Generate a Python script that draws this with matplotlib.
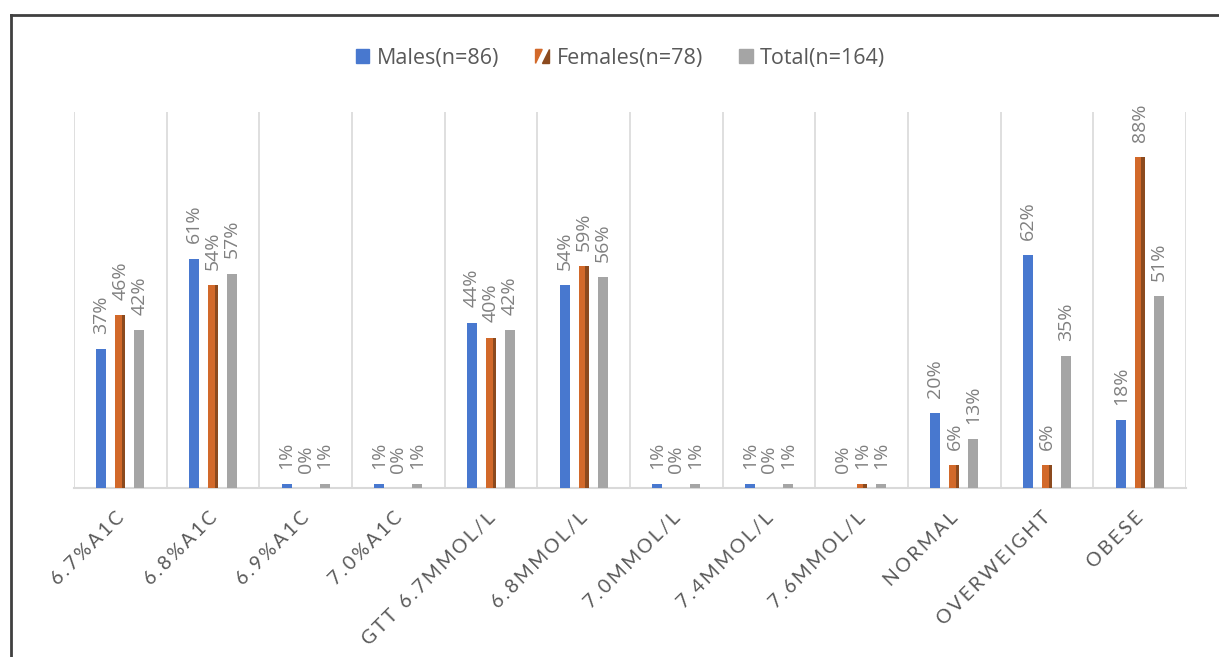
import numpy as np
import matplotlib
matplotlib.use("Agg")
import matplotlib.pyplot as plt
import matplotlib.transforms as mtrans
from matplotlib.lines import Line2D
from matplotlib.patches import Patch, Polygon
from matplotlib.legend_handler import HandlerPatch, HandlerTuple

plt.rcParams['font.family'] = ['Open Sans', 'DejaVu Sans']

categories = ['6.7%A1C', '6.8%A1C', '6.9%A1C', '7.0%A1C', 'GTT 6.7MMOL/L', '6.8MMOL/L',
              '7.0MMOL/L', '7.4MMOL/L', '7.6MMOL/L', 'NORMAL', 'OVERWEIGHT', 'OBESE']
males = [37, 61, 1, 1, 44, 54, 1, 1, 0, 20, 62, 18]
females = [46, 54, 0, 0, 40, 59, 0, 0, 1, 6, 6, 88]
total = [42, 57, 1, 1, 42, 56, 1, 1, 1, 13, 35, 51]
series_names = ['Males(n=86)', 'Females(n=78)', 'Total(n=164)']

c_male = '#4878CF'
c_fem = '#D2692A'
c_fem_dark = '#8C4A1E'
c_tot = '#A5A5A5'
c_lab = '#808080'

fig = plt.figure(figsize=(12.19, 6.57), dpi=100)
ax = fig.add_axes([0.0607, 0.2572, 0.9123, 0.5723])

x = np.arange(len(categories))
w = 0.11
off = 0.205

ax.bar(x - off, np.array(males) / 100, w, color=c_male, zorder=3)
ax.bar(x, np.array(females) / 100, w, color=c_fem, zorder=3)
# darker right side for the bevelled look
ax.bar(x + w * 0.15, np.array(females) / 100, w * 0.35, align='edge', color=c_fem_dark, zorder=4)
ax.bar(x + off, np.array(total) / 100, w, color=c_tot, zorder=3)

for xs, vals in [(x - off, males), (x, females), (x + off, total)]:
    for xi, v in zip(xs, vals):
        ax.annotate(f'{v}%', (xi, v / 100), xytext=(0, 11), textcoords='offset points',
                    rotation=90, ha='center', va='bottom', fontsize=14, color=c_lab)

ax.set_xlim(-0.5, len(categories) - 0.5)
ax.set_ylim(0, 1.0)
ax.set_yticks([])
for b in np.arange(len(categories) + 1) - 0.5:
    ax.axvline(b, color='#D9D9D9', lw=1.2, zorder=1)
for s in ['top', 'right', 'left']:
    ax.spines[s].set_visible(False)
ax.spines['bottom'].set_color('#D9D9D9')
ax.spines['bottom'].set_linewidth(1.5)

ax.set_xticks(x)
ax.set_xticklabels(['\u2009'.join(c) for c in categories], rotation=45, ha='right',
                   rotation_mode='anchor', fontsize=14, color='#595959',
                   family=['Lato', 'DejaVu Sans'])
ax.tick_params(axis='x', length=0, pad=15)
shift = mtrans.ScaledTranslation(-0.05, 0, fig.dpi_scale_trans)
for lab in ax.get_xticklabels():
    lab.set_transform(lab.get_transform() + shift)


def upper_tri(legend, orig_handle, xdescent, ydescent, width, height, fontsize):
    return Polygon([[-xdescent, -ydescent + height], [-xdescent + width, -ydescent + height],
                    [-xdescent, -ydescent]], closed=True)


def lower_tri(legend, orig_handle, xdescent, ydescent, width, height, fontsize):
    return Polygon([[-xdescent + width, -ydescent + height], [-xdescent + width, -ydescent],
                    [-xdescent, -ydescent]], closed=True)


h_m = Patch(color=c_male)
h_f1 = Patch(color=c_fem)
h_f2 = Patch(color=c_fem_dark)
h_t = Patch(color=c_tot)
fig.legend([h_m, (h_f1, h_f2), h_t], series_names, loc='center', bbox_to_anchor=(0.509, 0.911),
           ncol=3, frameon=False, fontsize=15.5, labelcolor='#595959',
           handlelength=0.62, handleheight=0.62, handletextpad=0.35, columnspacing=1.7,
           handler_map={h_f1: HandlerPatch(patch_func=upper_tri),
                        h_f2: HandlerPatch(patch_func=lower_tri),
                        tuple: HandlerTuple(ndivide=None, pad=0)})

# outer frame (top and left edges visible)
fig.add_artist(Line2D([11 / 1219, 11 / 1219], [0, 1 - 15 / 657], color='#404040', lw=2,
                      transform=fig.transFigure))
fig.add_artist(Line2D([11 / 1219, 1], [1 - 15 / 657, 1 - 15 / 657], color='#404040', lw=2,
                      transform=fig.transFigure))

fig.savefig('out.png', dpi=100)
